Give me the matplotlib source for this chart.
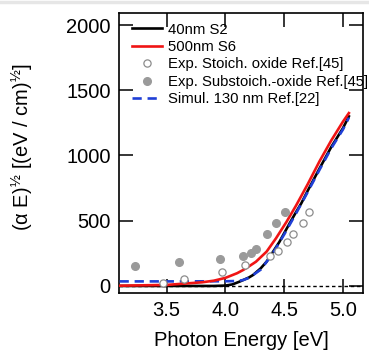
import numpy as np
import matplotlib
matplotlib.use("Agg")
import matplotlib.pyplot as plt

plt.rcParams["font.family"] = ["Liberation Sans", "DejaVu Sans"]
plt.rcParams["mathtext.fontset"] = "custom"
plt.rcParams["mathtext.rm"] = "Liberation Sans"
plt.rcParams["mathtext.it"] = "Liberation Sans:italic"
plt.rcParams["mathtext.bf"] = "Liberation Sans:bold"

# 40nm S2 (black line)
s2_x = [3.1, 3.5, 3.9, 4.0, 4.06, 4.12, 4.2, 4.235, 4.3, 4.35, 4.4, 4.46, 4.5, 4.546,
        4.6, 4.645, 4.7, 4.8, 4.9, 5.0, 5.05]
s2_y = [0, 0, 0, 3, 12, 33, 65, 84, 135, 186, 255, 339, 405, 480,
        565, 633, 730, 900, 1065, 1210, 1300]

# 500nm S6 (red line)
s6_x = [3.1, 3.5, 3.8, 3.9, 4.0, 4.1, 4.15, 4.2, 4.26, 4.35, 4.43, 4.52, 4.6, 4.7,
        4.8, 4.9, 5.0, 5.05]
s6_y = [2, 8, 28, 40, 62, 98, 122, 150, 186, 263, 365, 492, 615, 780,
        955, 1115, 1260, 1325]

# Simul. 130 nm Ref.[22] (blue dashed)
sim_x = [3.1, 3.5, 4.0, 4.1, 4.15, 4.2, 4.3, 4.4, 4.5, 4.6, 4.7, 4.8, 4.9, 5.0, 5.05]
sim_y = [35, 35, 36, 38, 45, 62, 125, 245, 395, 555, 720, 890, 1055, 1200, 1290]

# Exp. Stoich. oxide Ref.[45] (open circles)
stoich_x = [3.47, 3.65, 3.975, 4.164, 4.38, 4.447, 4.523, 4.578, 4.658, 4.708]
stoich_y = [20, 51, 110, 157, 232, 269, 338, 400, 484, 567]

# Exp. Substoich.-oxide Ref.[45] (filled circles)
sub_x = [3.23, 3.607, 3.952, 4.15, 4.218, 4.257, 4.353, 4.433, 4.51]
sub_y = [155, 181, 204, 230, 253, 286, 398, 485, 567]

fig = plt.figure(figsize=(3.69, 3.52), dpi=100)
ax = fig.add_axes([0.3225, 0.1676, 0.6612, 0.7954])

ax.axhline(0, color="black", lw=1.0, ls=(0, (2.5, 2)), zorder=1)

h_s2, = ax.plot(s2_x, s2_y, color="black", lw=1.9, zorder=2, label="40nm S2")
h_sim, = ax.plot(sim_x, sim_y, color="#1f3fd6", lw=1.9, ls=(0, (3.5, 2.2)), zorder=3,
                 label="Simul. 130 nm Ref.[22]")
h_s6, = ax.plot(s6_x, s6_y, color="#f01414", lw=1.9, zorder=4, label="500nm S6")
h_st, = ax.plot(stoich_x, stoich_y, ls="none", marker="o", ms=5.2, mfc="white",
                mec="#8c8c8c", mew=0.9, zorder=5, label="Exp. Stoich. oxide Ref.[45]")
h_sub, = ax.plot(sub_x, sub_y, ls="none", marker="o", ms=5.5, mfc="#9a9a9a",
                 mec="#9a9a9a", zorder=5, label="Exp. Substoich.-oxide Ref.[45]")

ax.set_xlim(3.095, 5.17)
ax.set_ylim(-54, 2092)
ax.set_xticks([3.5, 4.0, 4.5, 5.0])
ax.set_yticks([0, 500, 1000, 1500, 2000])
ax.tick_params(direction="in", length=10, width=1.1, top=True, right=True,
               labelsize=14.5, pad=6)
for sp in ax.spines.values():
    sp.set_linewidth(1.2)

ax.set_xlabel("Photon Energy [eV]", fontsize=14.5, labelpad=8)
ax.set_ylabel("(α E)$^{½}$ [(eV / cm)$^{½}$]", fontsize=14.5)
ax.yaxis.set_label_coords(-0.345, 0.52)

ax.legend(handles=[h_s2, h_s6, h_st, h_sub, h_sim], loc="upper left",
          bbox_to_anchor=(0.053, 0.966), frameon=False, fontsize=10.7,
          labelspacing=0.23, handlelength=2.0, handletextpad=0.4,
          borderpad=0, borderaxespad=0)

fig.add_artist(plt.Line2D([0, 1], [0.995, 0.995], color="#e6e6e6", lw=2.5,
                          transform=fig.transFigure))

fig.savefig("out.png", dpi=100)
